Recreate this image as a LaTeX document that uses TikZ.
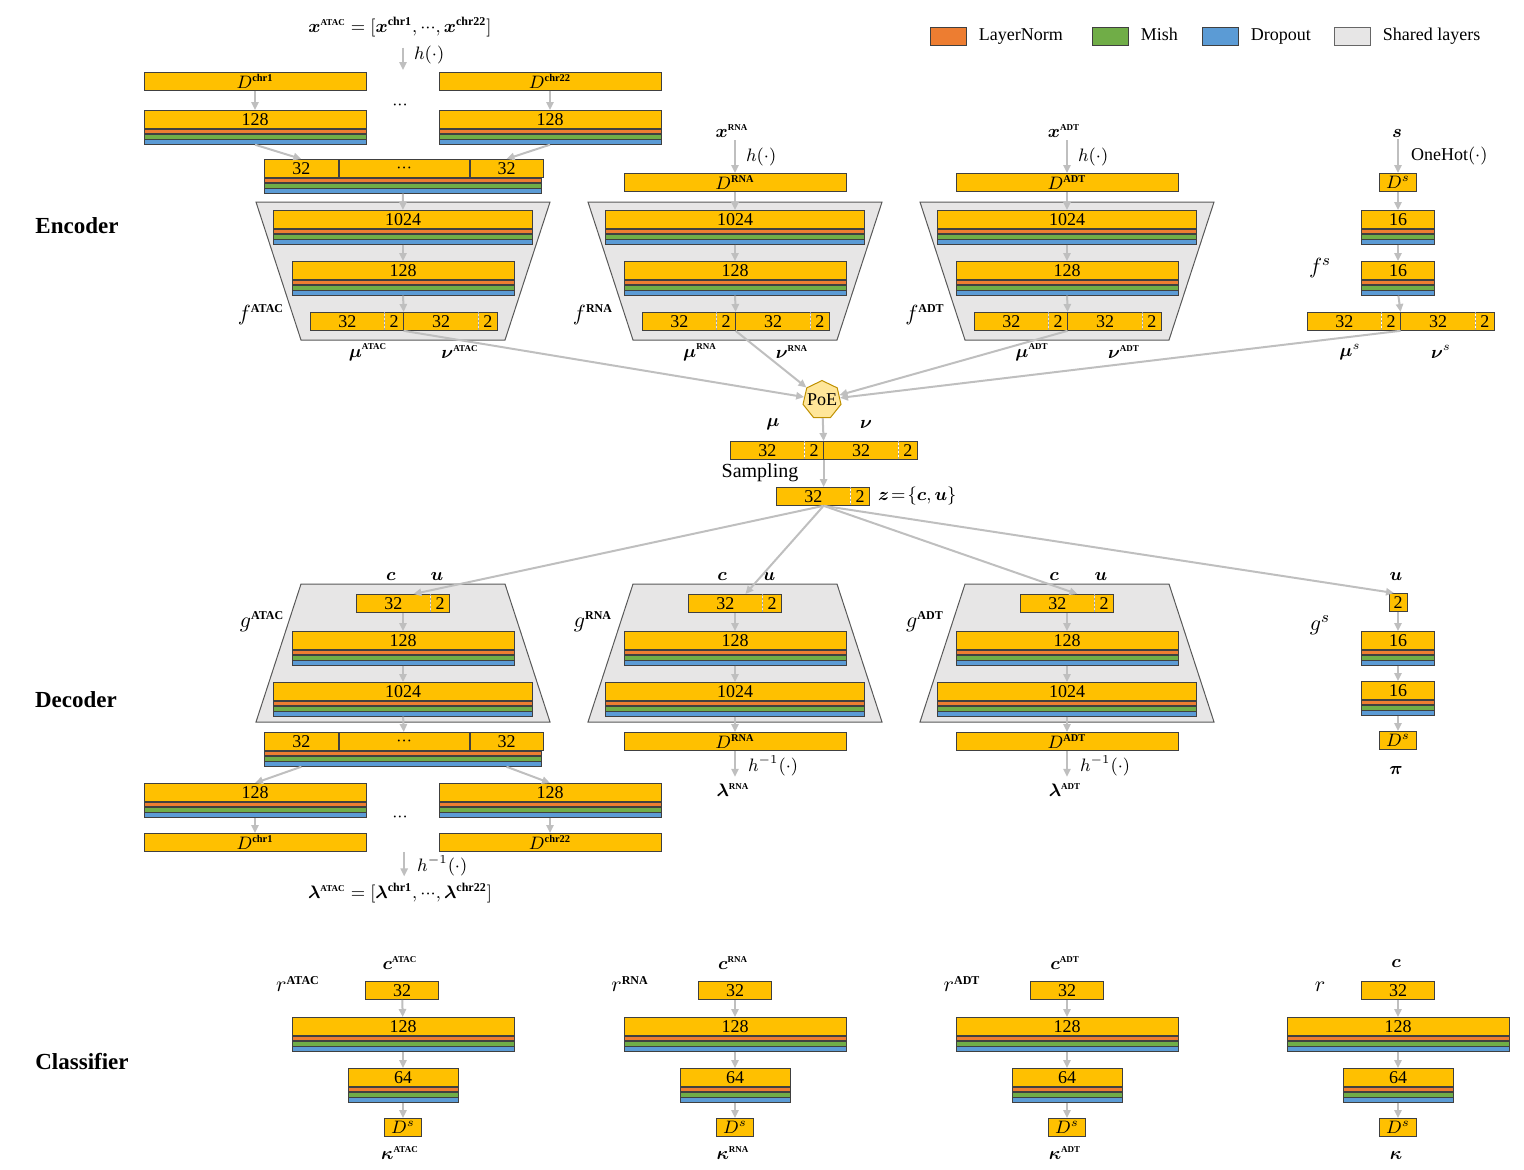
\documentclass[tikz,border=0pt]{standalone}
\usepackage{amsmath}
\usepackage{fontspec}
\setmainfont{Liberation Serif}
\usepackage{bm}
\usetikzlibrary{arrows.meta,positioning,shapes.geometric}

\definecolor{yelcol}{HTML}{FFC000}
\definecolor{lncol}{HTML}{ED7D31}
\definecolor{mishcol}{HTML}{70AD47}
\definecolor{dropcol}{HTML}{5B9BD5}
\definecolor{shcol}{HTML}{E7E6E6}
\definecolor{arrcol}{HTML}{BFBFBF}
\definecolor{poecol}{HTML}{FFE699}
\definecolor{poeedge}{HTML}{BF9000}
\definecolor{edgecol}{HTML}{404040}

\newcommand{\figfont}{\fontsize{9}{10}\selectfont}
\newcommand{\tsup}[1]{\text{\fontsize{4.5}{5}\selectfont\bfseries #1}}
\newcommand{\fsup}[1]{\text{\fontsize{6}{6}\selectfont\bfseries #1}}
\newcommand{\dsup}[1]{\text{\fontsize{5.2}{6}\selectfont\bfseries #1}}
\newcommand{\tdots}{{\cdot}{\cdot}{\cdot}}

% yellow layer with LayerNorm, Mish and Dropout stripes
\newcommand{\layerblock}[4]{%
    \node[yelbox, minimum width=#3, anchor=north] (#1) at (#2) {#4};
    \node[stripe, fill=lncol, minimum width=#3, below=0pt of #1] (#1-ln) {};
    \node[stripe, fill=mishcol, minimum width=#3, below=0pt of #1-ln] (#1-mi) {};
    \node[stripe, fill=dropcol, minimum width=#3, below=0pt of #1-mi] (#1-do) {};
}
% concatenated chromosome layer
\newcommand{\catblock}[2]{%
    \node[yelbox, minimum width=37pt, anchor=north west] (#1-l) at (#2) {32};
    \node[yelbox, minimum width=65pt, right=0pt of #1-l] (#1-m) {$\tdots$};
    \node[yelbox, minimum width=36.5pt, right=0pt of #1-m] (#1-r) {32};
    \node[stripe, fill=lncol, minimum width=138.5pt, anchor=north west] (#1-ln) at (#1-l.south west) {};
    \node[stripe, fill=mishcol, minimum width=138.5pt, below=0pt of #1-ln] (#1-mi) {};
    \node[stripe, fill=dropcol, minimum width=138.5pt, below=0pt of #1-mi] (#1-do) {};
}
% mean / variance output
\newcommand{\gaussblock}[2]{%
    \node[cell, minimum width=37pt, anchor=north west] (#1-m1) at (#2) {32};
    \node[cell, minimum width=9pt, right=0pt of #1-m1] (#1-v1) {2};
    \node[cell, minimum width=37pt, right=0pt of #1-v1] (#1-m2) {32};
    \node[cell, minimum width=9pt, right=0pt of #1-m2] (#1-v2) {2};
    \draw[rim] (#1-m1.north west) rectangle (#1-v2.south east);
    \draw[rim] (#1-v1.north east) -- (#1-v1.south east);
    \draw[divider] (#1-m1.north east) -- (#1-m1.south east)
        (#1-m2.north east) -- (#1-m2.south east);
}
% latent c | u
\newcommand{\latentblock}[2]{%
    \node[cell, minimum width=37pt, anchor=north west] (#1-c) at (#2) {32};
    \node[cell, minimum width=9pt, right=0pt of #1-c] (#1-u) {2};
    \draw[rim] (#1-c.north west) rectangle (#1-u.south east);
    \draw[divider] (#1-c.north east) -- (#1-c.south east);
}

\begin{document}
\begin{tikzpicture}[x=0.5pt, y=-0.5pt,
    cell/.style={fill=yelcol, minimum height=9pt, inner sep=0pt, font=\figfont},
    yelbox/.style={cell, draw=edgecol, line width=0.4pt},
    stripe/.style={draw=edgecol, line width=0.4pt, minimum height=2.25pt, inner sep=0pt},
    rim/.style={draw=edgecol, line width=0.4pt},
    divider/.style={draw=black!35, line width=0.4pt, dash pattern=on 1pt off 1pt},
    shared/.style={fill=shcol, draw=black!65, line width=0.5pt},
    arr/.style={draw=arrcol, line width=1pt, -{Triangle[length=4pt, width=3.6pt]}},
    lbl/.style={inner sep=1pt, font=\figfont},
    legtxt/.style={lbl, text height=6.2pt, text depth=1.8pt},
    fun/.style={inner sep=1pt, font=\fontsize{11}{12}\selectfont},
    sect/.style={inner sep=1pt, font=\fontsize{11.5}{13}\selectfont\bfseries},
    swatch/.style={draw=edgecol, line width=0.4pt, minimum width=18pt, minimum height=9pt, inner sep=0pt},
    poe/.style={regular polygon, regular polygon sides=7, minimum size=19pt, inner sep=-1.3pt,
        draw=poeedge, fill=poecol, line width=0.5pt, font=\figfont}
]
    \useasboundingbox (0,0) rectangle (1524,1169);

    % shared layers
    \foreach \dx in {0,332,664} {
        \draw[shared] (256+\dx,202) -- (550+\dx,202) -- (505+\dx,340) -- (301+\dx,340) -- cycle;
        \draw[shared] (301+\dx,584) -- (505+\dx,584) -- (550+\dx,722) -- (256+\dx,722) -- cycle;
    }

    % legend
    \node[swatch, fill=lncol] (leg-ln) at (948,36) {};
    \node[legtxt, right=5pt of leg-ln] (leg-ln-txt) {LayerNorm};
    \node[swatch, fill=mishcol] (leg-mi) at (1110,36) {};
    \node[legtxt, right=5pt of leg-mi] (leg-mi-txt) {Mish};
    \node[swatch, fill=dropcol] (leg-do) at (1220,36) {};
    \node[legtxt, right=5pt of leg-do] (leg-do-txt) {Dropout};
    \node[swatch, fill=shcol, draw=black!60] (leg-sh) at (1352,36) {};
    \node[legtxt, right=5pt of leg-sh] (leg-sh-txt) {Shared layers};

    \node[sect] (encoder) at (77,226) {Encoder};
    \node[sect] (decoder) at (76,700) {Decoder};
    \node[sect] (classifier) at (82,1061) {Classifier};

    % encoder ATAC
    \node[lbl] (x-atac) at (400,27) {$\bm{x}^{\tsup{ATAC}}=[\bm{x}^{\fsup{chr1}},\tdots,\bm{x}^{\fsup{chr22}}]$};
    \coordinate (h-atac) at (403,70);
    \node[yelbox, minimum width=111pt, anchor=north] (in-chr1) at (255,72) {$D^{\dsup{chr1}}$};
    \node[yelbox, minimum width=111pt, anchor=north] (in-chr22) at (550,72) {$D^{\dsup{chr22}}$};
    \node[lbl] (dots-in) at (400,105) {$\tdots$};
    \layerblock{ea-chr1}{255,110}{111pt}{128}
    \layerblock{ea-chr22}{550,110}{111pt}{128}
    \catblock{ea-cat}{264,159}
    \layerblock{ea-1024}{403,210}{129.5pt}{1024}
    \layerblock{ea-128}{403,261}{111pt}{128}
    \gaussblock{ea-out}{310,312}
    \node[fun] (f-atac) at (261,315) {$f^{\fsup{ATAC}}$};
    \node[lbl] (mu-atac) at (368,352) {$\bm{\mu}^{\tsup{ATAC}}$};
    \node[lbl] (nu-atac) at (460,352) {$\bm{\nu}^{\tsup{ATAC}}$};
    \draw[arr, shorten <=4pt] (x-atac.south -| h-atac) -- node[lbl, right=4pt] (h-atac-lbl) {$h(\cdot)$} (h-atac);
    \draw[arr] (in-chr1) -- (ea-chr1);
    \draw[arr] (in-chr22) -- (ea-chr22);
    \draw[arr] (ea-chr1-do.south) -- (ea-cat-l.north);
    \draw[arr] (ea-chr22-do.south) -- (ea-cat-r.north);
    \draw[arr] (ea-cat-do) -- (ea-1024);
    \draw[arr] (ea-1024-do) -- (ea-128);
    \draw[arr] (ea-128-do) -- (ea-out-v1.north east);

    % encoder RNA
    \node[lbl] (x-rna) at (732,131) {$\bm{x}^{\tsup{RNA}}$};
    \node[yelbox, minimum width=111pt, anchor=north] (in-rna) at (735,173) {$D^{\dsup{RNA}}$};
    \layerblock{er-1024}{735,210}{129.5pt}{1024}
    \layerblock{er-128}{735,261}{111pt}{128}
    \gaussblock{er-out}{642,312}
    \node[fun] (f-rna) at (593,315) {$f^{\fsup{RNA}}$};
    \node[lbl] (mu-rna) at (700,352) {$\bm{\mu}^{\tsup{RNA}}$};
    \node[lbl] (nu-rna) at (792,352) {$\bm{\nu}^{\tsup{RNA}}$};
    \draw[arr] (x-rna.south -| in-rna) -- node[lbl, right=4pt] (h-rna-lbl) {$h(\cdot)$} (in-rna);
    \draw[arr] (in-rna) -- (er-1024);
    \draw[arr] (er-1024-do) -- (er-128);
    \draw[arr] (er-128-do) -- (er-out-v1.north east);

    % encoder ADT
    \node[lbl] (x-adt) at (1064,131) {$\bm{x}^{\tsup{ADT}}$};
    \node[yelbox, minimum width=111pt, anchor=north] (in-adt) at (1067,173) {$D^{\dsup{ADT}}$};
    \layerblock{ed-1024}{1067,210}{129.5pt}{1024}
    \layerblock{ed-128}{1067,261}{111pt}{128}
    \gaussblock{ed-out}{974,312}
    \node[fun] (f-adt) at (925,315) {$f^{\fsup{ADT}}$};
    \node[lbl] (mu-adt) at (1032,352) {$\bm{\mu}^{\tsup{ADT}}$};
    \node[lbl] (nu-adt) at (1124,352) {$\bm{\nu}^{\tsup{ADT}}$};
    \draw[arr] (x-adt.south -| in-adt) -- node[lbl, right=4pt] (h-adt-lbl) {$h(\cdot)$} (in-adt);
    \draw[arr] (in-adt) -- (ed-1024);
    \draw[arr] (ed-1024-do) -- (ed-128);
    \draw[arr] (ed-128-do) -- (ed-out-v1.north east);

    % encoder s
    \node[lbl] (s-in) at (1397,133) {$\bm{s}$};
    \node[yelbox, minimum width=18.5pt, anchor=north] (in-s) at (1398,173) {$D^{s}$};
    \layerblock{es-16a}{1398,210}{36.5pt}{16}
    \layerblock{es-16b}{1398,261}{36.5pt}{16}
    \gaussblock{es-out}{1307,312}
    \node[fun] (f-s) at (1320,268) {$f^{s}$};
    \node[lbl] (mu-s) at (1350,352) {$\bm{\mu}^{s}$};
    \node[lbl] (nu-s) at (1441,352) {$\bm{\nu}^{s}$};
    \draw[arr] (s-in.south -| in-s) -- node[lbl, right=5pt] (onehot-lbl) {OneHot$(\cdot)$} (in-s);
    \draw[arr] (in-s) -- (es-16a);
    \draw[arr] (es-16a-do) -- (es-16b);
    \draw[arr] (es-16b-do) -- (es-out-v1.north east);

    % product of experts and sampling
    \node[poe] (poe) at (822,400) {PoE};
    \draw[arr] (ea-out-v1.south east) -- (poe);
    \draw[arr] (er-out-v1.south east) -- (poe);
    \draw[arr] (ed-out-v1.south east) -- (poe);
    \draw[arr] (es-out-v1.south east) -- (poe);
    \node[lbl] (mu-lbl) at (773,424) {$\bm{\mu}$};
    \node[lbl] (nu-lbl) at (866,424) {$\bm{\nu}$};
    \gaussblock{mun}{730,441}
    \node[lbl, font=\fontsize{10}{11}\selectfont] (sampling) at (760,473) {Sampling};
    \latentblock{zb}{776,487}
    \node[lbl, right=3pt of zb-u] (z-lbl) {$\bm{z}\!=\!\{\bm{c},\bm{u}\}$};
    \coordinate (z-out) at (zb-c.south -| mun-v1.south east);
    \draw[arr] (poe) -- (mun-v1.north east);
    \draw[arr] (mun-v1.south east) -- (zb-c.north -| mun-v1.south east);

    % decoder ATAC
    \node[lbl] (c-da) at (391,576) {$\bm{c}$};
    \node[lbl] (u-da) at (437,576) {$\bm{u}$};
    \latentblock{da-in}{356,594}
    \layerblock{da-128}{403,631}{111pt}{128}
    \layerblock{da-1024}{403,682}{129.5pt}{1024}
    \node[fun] (g-atac) at (262,622) {$g^{\fsup{ATAC}}$};
    \catblock{da-cat}{264,732}
    \layerblock{da-chr1}{255,783}{111pt}{128}
    \layerblock{da-chr22}{550,783}{111pt}{128}
    \node[yelbox, minimum width=111pt, anchor=north] (out-chr1) at (255,833) {$D^{\dsup{chr1}}$};
    \node[yelbox, minimum width=111pt, anchor=north] (out-chr22) at (550,833) {$D^{\dsup{chr22}}$};
    \node[lbl] (dots-out) at (400,817) {$\tdots$};
    \coordinate (hinv-atac) at (out-chr1.south -| da-cat-m);
    \node[lbl] (lam-atac) at (400,893) {$\bm{\lambda}^{\tsup{ATAC}}=[\bm{\lambda}^{\fsup{chr1}},\tdots,\bm{\lambda}^{\fsup{chr22}}]$};
    \draw[arr] (z-out) -- ([xshift=10pt]da-in-c.north);
    \draw[arr] (da-in-c.south -| da-128) -- (da-128);
    \draw[arr] (da-128-do) -- (da-1024);
    \draw[arr] (da-1024-do) -- (da-cat-m);
    \draw[arr] (da-cat-do.south -| da-cat-l) -- (da-chr1.north);
    \draw[arr] (da-cat-do.south -| da-cat-r) -- (da-chr22.north);
    \draw[arr] (da-chr1-do) -- (out-chr1);
    \draw[arr] (da-chr22-do) -- (out-chr22);
    \draw[arr, shorten >=2pt] (hinv-atac) -- node[lbl, right=5pt] (hinv-atac-lbl) {$h^{-1}(\cdot)$} (lam-atac.north -| hinv-atac);

    % decoder RNA
    \node[lbl] (c-dr) at (722,576) {$\bm{c}$};
    \node[lbl] (u-dr) at (769,576) {$\bm{u}$};
    \latentblock{dr-in}{688,594}
    \layerblock{dr-128}{735,631}{111pt}{128}
    \layerblock{dr-1024}{735,682}{129.5pt}{1024}
    \node[fun] (g-rna) at (593,622) {$g^{\fsup{RNA}}$};
    \node[yelbox, minimum width=111pt, anchor=north] (out-rna) at (735,732) {$D^{\dsup{RNA}}$};
    \node[lbl] (lam-rna) at (733,790) {$\bm{\lambda}^{\tsup{RNA}}$};
    \draw[arr] (z-out) -- ([xshift=10pt]dr-in-c.north);
    \draw[arr] (dr-in-c.south -| dr-128) -- (dr-128);
    \draw[arr] (dr-128-do) -- (dr-1024);
    \draw[arr] (dr-1024-do) -- (out-rna);
    \draw[arr, shorten >=2pt] (out-rna) -- node[lbl, right=5pt] (hinv-rna-lbl) {$h^{-1}(\cdot)$} (lam-rna.north -| out-rna);

    % decoder ADT
    \node[lbl] (c-dd) at (1054,576) {$\bm{c}$};
    \node[lbl] (u-dd) at (1101,576) {$\bm{u}$};
    \latentblock{dd-in}{1020,594}
    \layerblock{dd-128}{1067,631}{111pt}{128}
    \layerblock{dd-1024}{1067,682}{129.5pt}{1024}
    \node[fun] (g-adt) at (925,622) {$g^{\fsup{ADT}}$};
    \node[yelbox, minimum width=111pt, anchor=north] (out-adt) at (1067,732) {$D^{\dsup{ADT}}$};
    \node[lbl] (lam-adt) at (1065,790) {$\bm{\lambda}^{\tsup{ADT}}$};
    \draw[arr] (z-out) -- ([xshift=10pt]dd-in-c.north);
    \draw[arr] (dd-in-c.south -| dd-128) -- (dd-128);
    \draw[arr] (dd-128-do) -- (dd-1024);
    \draw[arr] (dd-1024-do) -- (out-adt);
    \draw[arr, shorten >=2pt] (out-adt) -- node[lbl, right=5pt] (hinv-adt-lbl) {$h^{-1}(\cdot)$} (lam-adt.north -| out-adt);

    % decoder s
    \node[lbl] (u-ds) at (1396,576) {$\bm{u}$};
    \node[yelbox, minimum width=9pt, anchor=north] (ds-in) at (1398,593) {2};
    \layerblock{ds-16a}{1398,631}{36.5pt}{16}
    \layerblock{ds-16b}{1398,681}{36.5pt}{16}
    \node[fun] (g-s) at (1320,625) {$g^{s}$};
    \node[yelbox, minimum width=18.5pt, anchor=north] (out-s) at (1398,731) {$D^{s}$};
    \node[lbl] (pi-s) at (1396,770) {$\bm{\pi}$};
    \draw[arr] (z-out) -- ([xshift=-2pt]ds-in.north);
    \draw[arr] (ds-in) -- (ds-16a);
    \draw[arr] (ds-16a-do) -- (ds-16b);
    \draw[arr] (ds-16b-do) -- (out-s);

    % classifier ATAC
    \node[lbl] (c-atac) at (400,963) {$\bm{c}^{\tsup{ATAC}}$};
    \node[fun] (r-atac) at (298,984) {$r^{\fsup{ATAC}}$};
    \node[yelbox, minimum width=36.5pt, anchor=north] (ca-32) at (402,981) {32};
    \layerblock{ca-128}{403,1017}{111pt}{128}
    \layerblock{ca-64}{403,1068}{55pt}{64}
    \node[yelbox, minimum width=18.5pt, anchor=north] (ca-ds) at (403,1118) {$D^{s}$};
    \node[lbl] (kappa-atac) at (400,1153) {$\bm{\kappa}^{\tsup{ATAC}}$};
    \draw[arr] (ca-32) -- (ca-128);
    \draw[arr] (ca-128-do) -- (ca-64);
    \draw[arr] (ca-64-do) -- (ca-ds);

    % classifier RNA
    \node[lbl] (c-rna) at (733,963) {$\bm{c}^{\tsup{RNA}}$};
    \node[fun] (r-rna) at (630,984) {$r^{\fsup{RNA}}$};
    \node[yelbox, minimum width=36.5pt, anchor=north] (cr-32) at (735,981) {32};
    \layerblock{cr-128}{735,1017}{111pt}{128}
    \layerblock{cr-64}{735,1068}{55pt}{64}
    \node[yelbox, minimum width=18.5pt, anchor=north] (cr-ds) at (735,1118) {$D^{s}$};
    \node[lbl] (kappa-rna) at (733,1153) {$\bm{\kappa}^{\tsup{RNA}}$};
    \draw[arr] (cr-32) -- (cr-128);
    \draw[arr] (cr-128-do) -- (cr-64);
    \draw[arr] (cr-64-do) -- (cr-ds);

    % classifier ADT
    \node[lbl] (c-adt) at (1065,963) {$\bm{c}^{\tsup{ADT}}$};
    \node[fun] (r-adt) at (962,984) {$r^{\fsup{ADT}}$};
    \node[yelbox, minimum width=36.5pt, anchor=north] (cd-32) at (1067,981) {32};
    \layerblock{cd-128}{1067,1017}{111pt}{128}
    \layerblock{cd-64}{1067,1068}{55pt}{64}
    \node[yelbox, minimum width=18.5pt, anchor=north] (cd-ds) at (1067,1118) {$D^{s}$};
    \node[lbl] (kappa-adt) at (1065,1153) {$\bm{\kappa}^{\tsup{ADT}}$};
    \draw[arr] (cd-32) -- (cd-128);
    \draw[arr] (cd-128-do) -- (cd-64);
    \draw[arr] (cd-64-do) -- (cd-ds);

    % classifier s
    \node[lbl] (c-s) at (1396,963) {$\bm{c}$};
    \node[fun] (r-s) at (1320,987) {$r$};
    \node[yelbox, minimum width=36.5pt, anchor=north] (cs-32) at (1398,981) {32};
    \layerblock{cs-128}{1398,1017}{111pt}{128}
    \layerblock{cs-64}{1398,1068}{55pt}{64}
    \node[yelbox, minimum width=18.5pt, anchor=north] (cs-ds) at (1398,1118) {$D^{s}$};
    \node[lbl] (kappa-s) at (1396,1155) {$\bm{\kappa}$};
    \draw[arr] (cs-32) -- (cs-128);
    \draw[arr] (cs-128-do) -- (cs-64);
    \draw[arr] (cs-64-do) -- (cs-ds);
\end{tikzpicture}
\end{document}
